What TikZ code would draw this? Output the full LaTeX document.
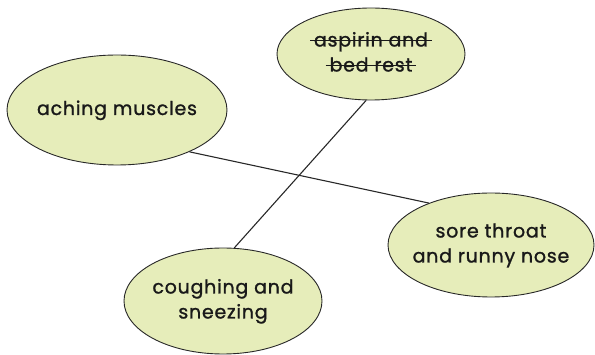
\documentclass[tikz,border=0pt]{standalone}
\usepackage{fontspec}
\setmainfont{Poppins}[FakeBold=1.2,LetterSpace=4]
\usetikzlibrary{shapes.geometric}
\definecolor{bubble}{RGB}{230,237,186}
\definecolor{edge}{RGB}{40,40,40}
\newsavebox\strkbox
\newcommand\strk[1]{\sbox\strkbox{#1}\rlap{\hspace{-4pt}\rule[0.3em]{\dimexpr\wd\strkbox+8pt\relax}{0.9pt}}\usebox\strkbox}
\newcommand\lbl[1]{\makebox[0pt]{\begin{tabular}{@{}c@{}}#1\end{tabular}}}
\tikzset{
  bubblenode/.style={ellipse, draw=edge, line width=0.9pt, fill=bubble, inner sep=0pt,
    font=\fontsize{19}{25}\selectfont, text=black!90},
  link/.style={draw=edge, line width=1.1pt}
}
\begin{document}
\begin{tikzpicture}[x=1pt,y=-1pt]
\useasboundingbox (0,0) rectangle (595,355);
\node[bubblenode, minimum width=220, minimum height=110] (ache) at (117,110) {\lbl{aching muscles}};
\node[bubblenode, minimum width=188, minimum height=92] (asp) at (371,54) {\lbl{\strk{aspirin and}\\\strk{bed rest}}};
\node[bubblenode, minimum width=206, minimum height=104] (sore) at (491,245) {\lbl{sore throat\\and runny nose}};
\node[bubblenode, minimum width=198, minimum height=106] (cough) at (223,301) {\lbl{coughing and\\sneezing}};
\draw[link] (ache.-30) -- (sore.146);
\draw[link] (asp.-96) -- (cough.78);
\end{tikzpicture}
\end{document}
